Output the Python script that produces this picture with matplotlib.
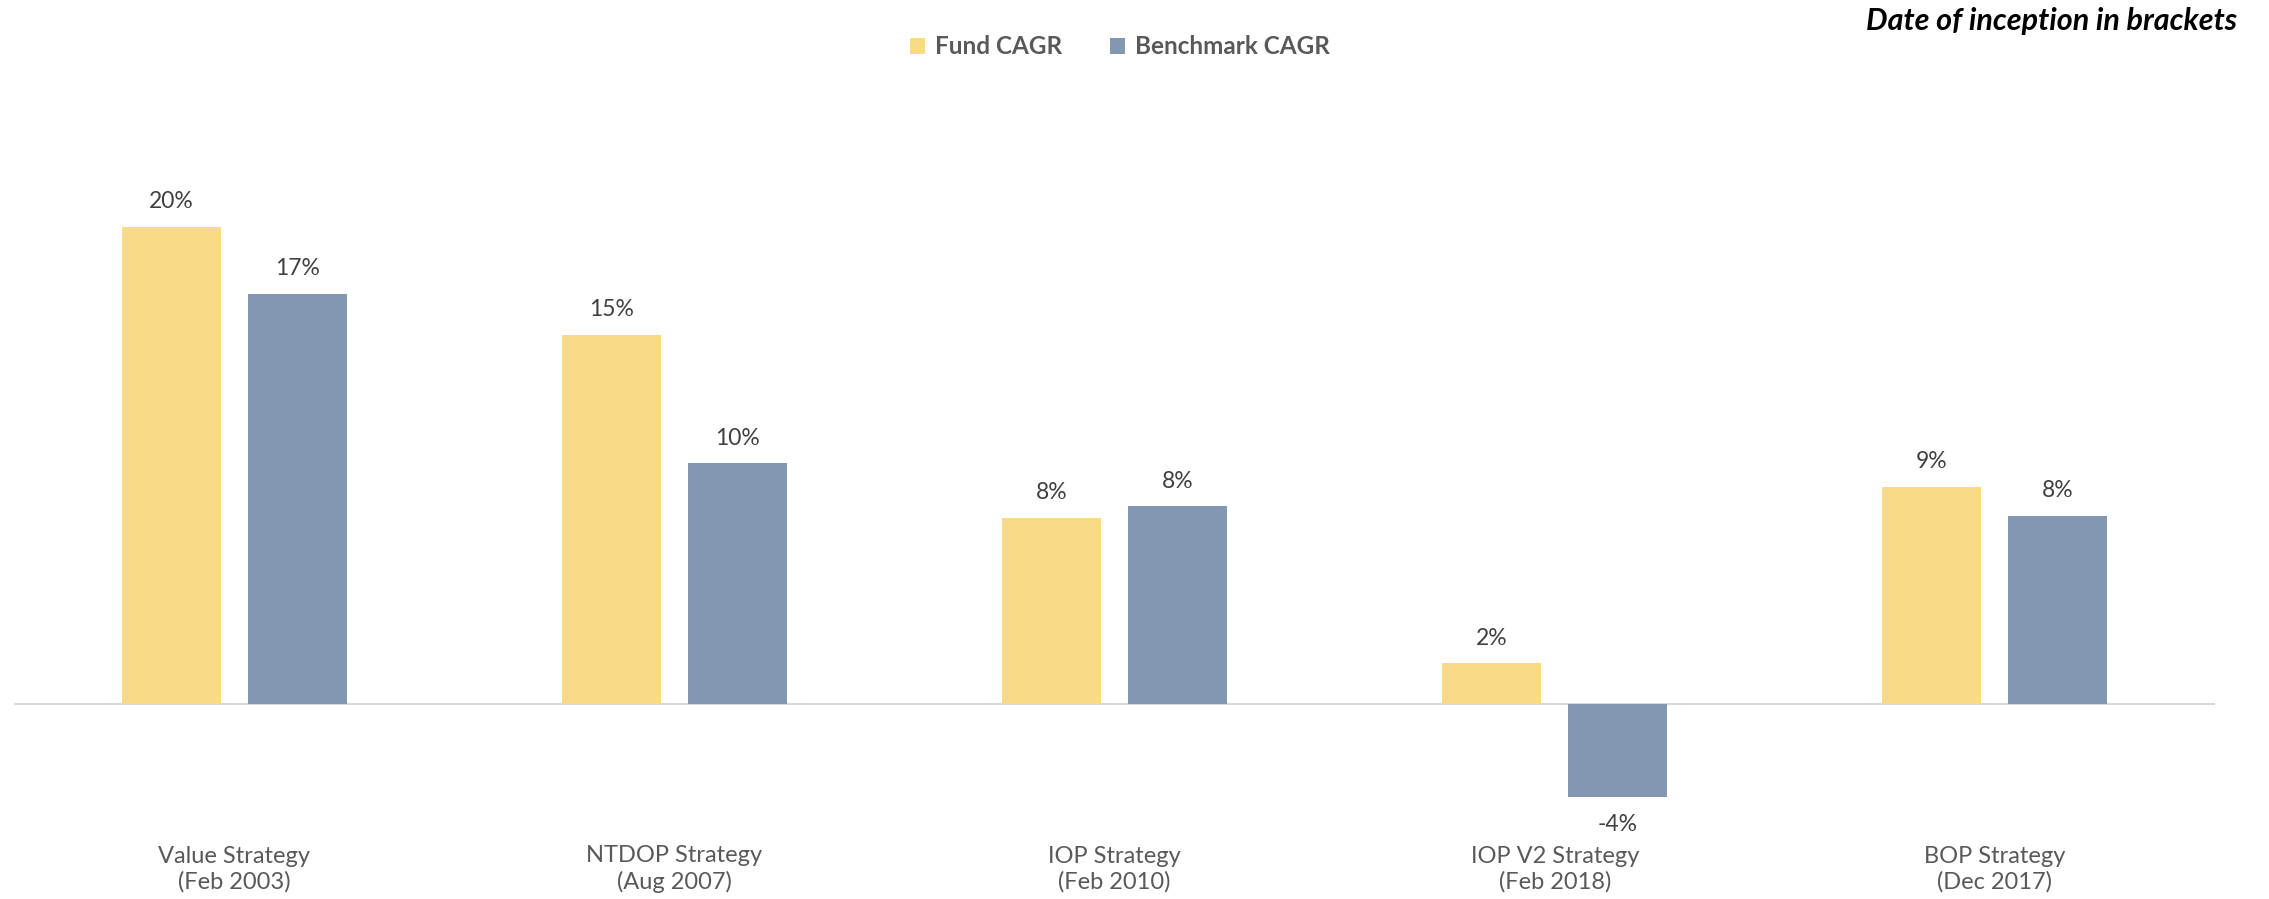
import matplotlib
matplotlib.use("Agg")
import matplotlib.pyplot as plt
import numpy as np

plt.rcParams['font.family'] = ['Lato', 'DejaVu Sans']

categories = ["Value Strategy\n(Feb 2003)", "NTDOP Strategy\n(Aug 2007)", "IOP Strategy\n(Feb 2010)",
              "IOP V2 Strategy\n(Feb 2018)", "BOP Strategy\n(Dec 2017)"]
fund_cagr = [20.0, 15.49, 7.8, 1.7, 9.1]
bench_cagr = [17.2, 10.1, 8.3, -3.9, 7.9]
series_names = ["Fund CAGR", "Benchmark CAGR"]

W, H = 2269, 899
fig = plt.figure(figsize=(W / 100, H / 100), dpi=100)
# axes in pixel coords
left, right, top, bottom = 14, 2215, 130, 810
ax = fig.add_axes([left / W, 1 - bottom / H, (right - left) / W, (bottom - top) / H])

zero_px = 704
scale = 23.85  # px per percent
ax.set_ylim(-(bottom - zero_px) / scale, (zero_px - top) / scale)

x = np.arange(len(categories))
bw = 0.225
off = 0.143
fund_color = "#F9DB87"
bench_color = "#8497B0"
ax.bar(x - off, fund_cagr, bw, color=fund_color, label=series_names[0])
ax.bar(x + off, bench_cagr, bw, color=bench_color, label=series_names[1])
ax.set_xlim(-0.5, len(categories) - 0.5)

for xs, vals in ((x - off, fund_cagr), (x + off, bench_cagr)):
    for xi, v in zip(xs, vals):
        if v >= 0:
            ax.annotate(f"{v:.0f}%", (xi, v), xytext=(0, 18), textcoords="offset points",
                        ha="center", va="center", fontsize=16.5, color="#404040")
        else:
            ax.annotate(f"{v:.0f}%", (xi, v), xytext=(0, -20), textcoords="offset points",
                        ha="center", va="center", fontsize=16.5, color="#404040")

ax.axhline(0, color="#D9D9D9", lw=1.5, zorder=0)
for s in ax.spines.values():
    s.set_visible(False)
ax.set_yticks([])
ax.set_xticks([])

for xi, lab in zip(x, categories):
    fig.text((left + (xi + 0.5) * (right - left) / len(categories)) / W, 1 - 869 / H, lab,
             ha="center", va="center", fontsize=17, color="#595959", linespacing=1.25)

leg = fig.legend(loc="center", bbox_to_anchor=(1120 / W, 1 - 47 / H), ncol=2, frameon=False,
                 handlelength=0.6, handleheight=0.6, handletextpad=0.4, columnspacing=2.0,
                 prop={'weight': 'bold', 'size': 17.5})
for t in leg.get_texts():
    t.set_color("#595959")

fig.text(2237 / W, 1 - 21 / H, "Date of inception in brackets", ha="right", va="center",
         fontsize=22, fontweight="bold", fontstyle="italic", color="black")

fig.savefig("out.png", dpi=100)
